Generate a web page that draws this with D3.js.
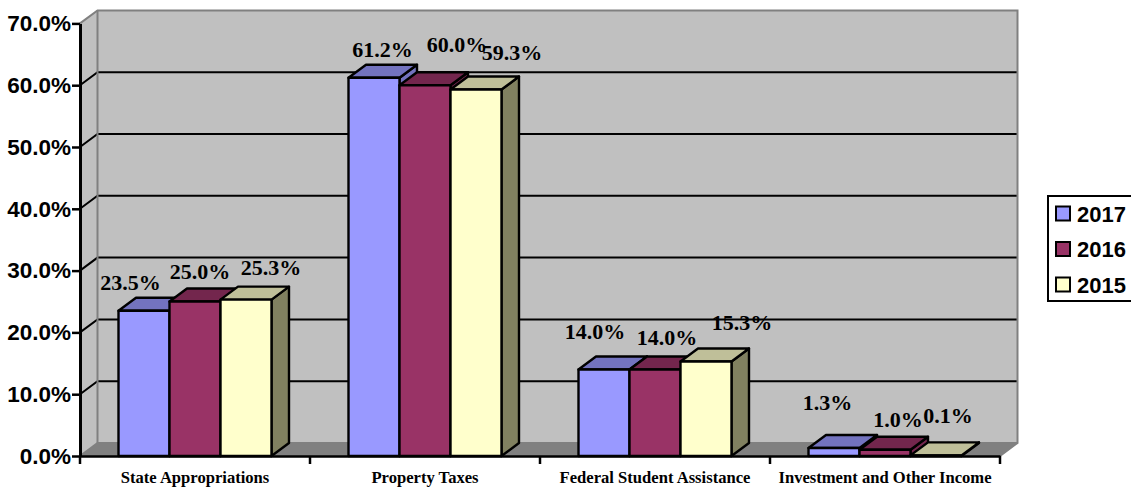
<!DOCTYPE html>
<html>
<head>
<meta charset="utf-8">
<script src="https://cdn.jsdelivr.net/npm/d3@7"></script>
<style>
  html, body { margin: 0; padding: 0; background: #fff; overflow: hidden; }
  svg { display: block; }
</style>
</head>
<body>
<svg id="chart" width="1131" height="487"></svg>
<script>
const categories = ['State Appropriations', 'Property Taxes', 'Federal Student Assistance', 'Investment and Other Income'];
const years = ['2017', '2016', '2015'];
const values2017 = [23.5, 61.2, 14.0, 1.3];
const values2016 = [25.0, 60.0, 14.0, 1.0];
const values2015 = [25.3, 59.3, 15.3, 0.1];
const yTicks = [0, 10, 20, 30, 40, 50, 60, 70];

const seriesValues = [values2017, values2016, values2015];
const front = ['#9999ff', '#993366', '#ffffcc'];
const top_ = ['#7373bf', '#73264d', '#bfbf99'];
const side = ['#7373bf', '#73264d', '#808060'];

// 3d depth of the plot box
const dx = 17.5, dy = 13;
// hand placed data labels in the original, offset from bar centre / bar top
const labelNudge = [
  [[-13.5, -21], [5, -23], [25, -25]],
  [[8.5, -21], [32, -33], [36, -30]],
  [[-9, -30], [12, -24], [36, -31]],
  [[-6.5, -38], [13, -23], [12, -32]]
];

const svg = d3.select('#chart');
const x = d3.scaleBand().domain(categories).range([80, 1000]);
const group = d3.scaleBand().domain(years).range([0, x.bandwidth()]).paddingOuter(0.755).paddingInner(0);
const y = d3.scaleLinear().domain([0, 70]).range([456, 23.4]);
const line = d3.line();
const poly = pts => line(pts) + 'Z';

const x0 = x.range()[0], x1 = x.range()[1];

// walls and floor
svg.append('path').attr('d', poly([[x0 + dx, y(70) - dy], [x1 + dx, y(70) - dy], [x1 + dx, y(0) - dy], [x0 + dx, y(0) - dy]])).attr('fill', '#c0c0c0');
svg.append('path').attr('d', poly([[x0, y(70)], [x0 + dx, y(70) - dy], [x0 + dx, y(0) - dy], [x0, y(0)]])).attr('fill', '#c0c0c0');
svg.append('path').attr('d', poly([[x0, y(0)], [x0 + dx, y(0) - dy], [x1 + dx, y(0) - dy], [x1, y(0)]])).attr('fill', '#808080');

// gridlines run along side wall and back wall
svg.append('g').selectAll('path').data(yTicks.slice(1, -1)).join('path')
  .attr('d', d => line([[x0, y(d)], [x0 + dx, y(d) - dy], [x1 + dx, y(d) - dy]]))
  .attr('fill', 'none').attr('stroke', '#000').attr('stroke-width', 2);

// grey wall edges
svg.append('path')
  .attr('d', line([[x0, y(70)], [x0 + dx, y(70) - dy], [x1 + dx, y(70) - dy], [x1 + dx, y(0) - dy], [x1, y(0)]]))
  .attr('fill', 'none').attr('stroke', '#808080').attr('stroke-width', 2);
svg.append('path')
  .attr('d', line([[x0 + dx, y(70) - dy], [x0 + dx, y(0) - dy], [x1 + dx, y(0) - dy]]))
  .attr('fill', 'none').attr('stroke', '#808080').attr('stroke-width', 2);
svg.append('path')
  .attr('d', line([[x0, y(0)], [x0 + dx, y(0) - dy]]))
  .attr('fill', 'none').attr('stroke', '#808080').attr('stroke-width', 2);

// bars, left to right so the next bar covers the previous side face
categories.forEach((cat, c) => {
  years.forEach((yr, s) => {
    const v = seriesValues[s][c];
    const l = x(cat) + group(yr), r = l + group.bandwidth();
    const b = y(0), t = y(v);
    const g = svg.append('g').attr('stroke', '#000').attr('stroke-width', 2.4).attr('stroke-linejoin', 'round');
    g.append('path').attr('d', poly([[r, t], [r + dx, t - dy], [r + dx, b - dy], [r, b]])).attr('fill', side[s]);
    g.append('path').attr('d', poly([[l, t], [l + dx, t - dy], [r + dx, t - dy], [r, t]])).attr('fill', top_[s]);
    g.append('path').attr('d', poly([[l, t], [r, t], [r, b], [l, b]])).attr('fill', front[s]);
  });
});

// axes
const yAxis = d3.axisLeft(y).tickValues(yTicks).tickSize(8).tickSizeOuter(0).tickPadding(1).tickFormat(d => d3.format('.1f')(d) + '%');
const gy = svg.append('g').attr('transform', `translate(${x0},0)`).call(yAxis);
gy.select('.domain').attr('stroke', '#000').attr('stroke-width', 3);
gy.selectAll('.tick line').attr('stroke', '#000').attr('stroke-width', 2.5);
gy.selectAll('.tick text')
  .attr('font-family', '"Liberation Sans", Arial, sans-serif')
  .attr('font-weight', 'bold').attr('font-size', 22.5).attr('fill', '#000');

const xAxis = d3.axisBottom(x).tickSize(0).tickPadding(15);
const gx = svg.append('g').attr('transform', `translate(0,${y(0)})`).call(xAxis);
gx.select('.domain').attr('stroke', '#000').attr('stroke-width', 2.5);
gx.selectAll('.tick text')
  .attr('font-family', '"Liberation Serif", "Times New Roman", serif')
  .attr('font-weight', 'bold').attr('font-size', 16.6).attr('fill', '#000');
gx.selectAll('line.edge').data([...categories.map(c => x(c)), x1]).join('line')
  .attr('class', 'edge').attr('x1', d => d).attr('x2', d => d).attr('y1', 0).attr('y2', 8)
  .attr('stroke', '#000').attr('stroke-width', 2.5);

// data labels
categories.forEach((cat, c) => {
  years.forEach((yr, s) => {
    const v = seriesValues[s][c];
    const n = labelNudge[c][s];
    svg.append('text')
      .attr('x', x(cat) + group(yr) + group.bandwidth() / 2 + n[0])
      .attr('y', y(v) + n[1])
      .attr('text-anchor', 'middle')
      .attr('font-family', '"Liberation Serif", "Times New Roman", serif')
      .attr('font-weight', 'bold').attr('font-size', 22).attr('fill', '#000')
      .text(d3.format('.1f')(v) + '%');
  });
});

// legend
const legend = svg.append('g');
legend.append('rect').attr('x', 1048).attr('y', 196).attr('width', 90).attr('height', 105)
  .attr('fill', '#fff').attr('stroke', '#000').attr('stroke-width', 2);
const ly = d3.scalePoint().domain(years).range([213.5, 284.5]);
years.forEach((yr, s) => {
  legend.append('rect').attr('x', 1056).attr('y', ly(yr) - 7).attr('width', 14).attr('height', 14)
    .attr('fill', front[s]).attr('stroke', '#000').attr('stroke-width', 2);
  legend.append('text').attr('x', 1077).attr('y', ly(yr) + 8)
    .attr('font-family', '"Liberation Sans", Arial, sans-serif')
    .attr('font-weight', 'bold').attr('font-size', 22).attr('fill', '#000').text(yr);
});
</script>
</body>
</html>
